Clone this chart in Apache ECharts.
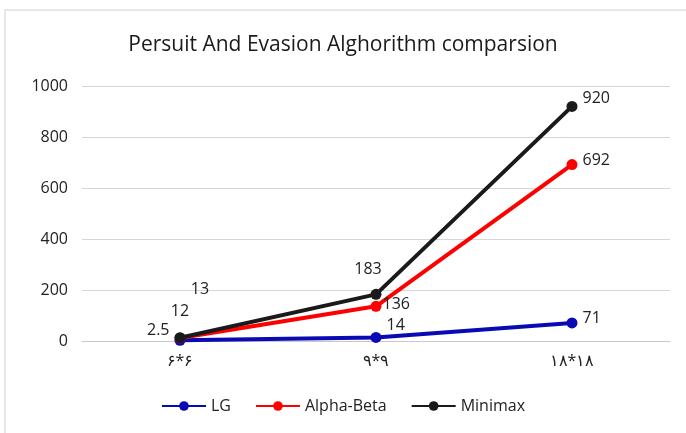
<!DOCTYPE html>
<html>
<head>
<meta charset="utf-8">
<script src="https://cdn.jsdelivr.net/npm/echarts@6/dist/echarts.min.js"></script>
<style>
  html, body { margin: 0; padding: 0; background: #fff; }
  #main { width: 686px; height: 433px; }
</style>
</head>
<body>
<div id="main"></div>
<script>
var categories = ['۶*۶', '۹*۹', '۱۸*۱۸'];
var lgValues = [2.5, 14, 71];
var alphaBetaValues = [12, 136, 692];
var minimaxValues = [13, 183, 920];

var font = '"Open Sans", "Noto Sans", sans-serif';

function withLabels(values, positions) {
  return values.map(function (v, i) {
    return { value: v, label: positions[i] };
  });
}

var chart = echarts.init(document.getElementById('main'));

chart.setOption({
  animation: false,
  textStyle: { fontFamily: font },
  graphic: [{
    type: 'rect',
    shape: { x: 5, y: 10, width: 700, height: 440 },
    style: { fill: 'none', stroke: '#d0d0d0', lineWidth: 1 }
  }],
  title: {
    text: 'Persuit And Evasion Alghorithm comparsion',
    left: 'center',
    top: 30,
    textStyle: { fontSize: 21, fontWeight: 'normal', color: '#1a1a1a', fontFamily: font }
  },
  legend: {
    bottom: 14,
    left: 'center',
    itemWidth: 44,
    itemHeight: 12,
    itemGap: 24,
    textStyle: { fontSize: 16, color: '#222' },
    data: ['LG', 'Alpha-Beta', 'Minimax']
  },
  grid: { left: 82, right: 16, top: 86, bottom: 92, containLabel: false },
  xAxis: {
    type: 'category',
    data: categories,
    axisLine: { lineStyle: { color: '#c8c8c8' } },
    axisTick: { show: false },
    axisLabel: { fontSize: 16, color: '#222', margin: 12 }
  },
  yAxis: {
    type: 'value',
    min: 0,
    max: 1000,
    interval: 200,
    axisLine: { show: false },
    axisTick: { show: false },
    axisLabel: {
      fontSize: 16, color: '#222', margin: 14,
      formatter: function (v) { return String(v); }
    },
    splitLine: { lineStyle: { color: '#d6d6d6' } }
  },
  series: [{
    name: 'LG',
    type: 'line',
    data: withLabels(lgValues, [
      { position: 'left', offset: [0, -10] },
      { position: 'right', offset: [0, -12] },
      { position: 'right', offset: [0, -4] }
    ]),
    symbol: 'circle',
    symbolSize: 11,
    color: '#0a0ab4',
    lineStyle: { width: 4 },
    label: { show: true, fontSize: 16, color: '#222' },
    z: 3
  }, {
    name: 'Alpha-Beta',
    type: 'line',
    data: withLabels(alphaBetaValues, [
      { position: 'top', offset: [0, -8] },
      { position: 'right', offset: [-4, -2] },
      { position: 'right', offset: [0, -4] }
    ]),
    symbol: 'circle',
    symbolSize: 11,
    color: '#ff0000',
    lineStyle: { width: 4 },
    label: { show: true, fontSize: 16, color: '#222' },
    z: 4
  }, {
    name: 'Minimax',
    type: 'line',
    data: withLabels(minimaxValues, [
      { position: 'top', offset: [20, -30] },
      { position: 'top', offset: [-8, -6] },
      { position: 'right', offset: [0, -8] }
    ]),
    symbol: 'circle',
    symbolSize: 11,
    color: '#1a1a1a',
    lineStyle: { width: 4 },
    label: { show: true, fontSize: 16, color: '#222' },
    z: 5
  }]
});
</script>
</body>
</html>
